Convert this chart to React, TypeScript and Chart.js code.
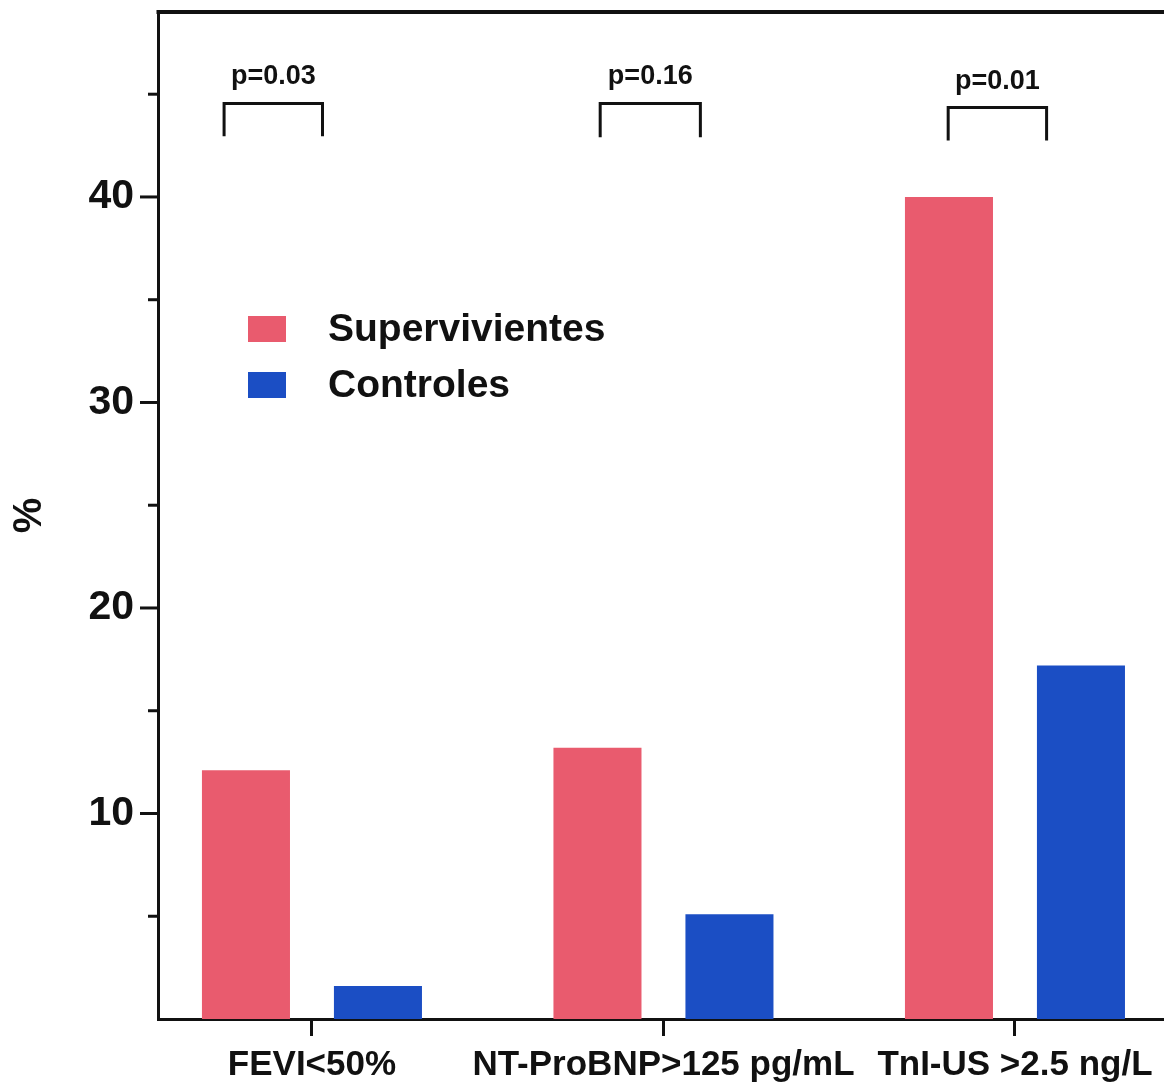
import React, { useEffect, useRef } from 'react';
import { Chart, registerables } from 'chart.js';

Chart.register(...registerables);

// ---- data ----
const categories = ['FEVI<50%', 'NT-ProBNP>125 pg/mL', 'TnI-US >2.5 ng/L'];
const seriesNames = ['Supervivientes', 'Controles'];
const supervivientes = [12.1, 13.2, 40.0];
const controles = [1.6, 5.1, 17.2];
const yMajorTicks = [10, 20, 30, 40];
const yMinorTicks = [5, 15, 25, 35, 45];
const yTitle = '%';
const pValues = ['p=0.03', 'p=0.16', 'p=0.01'];
// bracket extents: x offsets from each category centre (category units), y in %
const bracketStart = [-0.25, -0.18, -0.19];
const bracketEnd = [0.03, 0.105, 0.09];
const bracketTop = [44.55, 44.55, 44.35];
const bracketBottom = [42.95, 42.9, 42.75];
const xRange = [-0.438, 2.424];
const yRange = [0, 49];

const RED = '#E95B6E';
const BLUE = '#1B4EC4';
const INK = '#111111';
const FONT = "'Liberation Sans', Arial, Helvetica, sans-serif";

const decorations = {
  id: 'decorations',
  afterDraw(chart: any) {
    const { ctx, chartArea, scales } = chart;
    const xs = scales.x;
    const ys = scales.y;
    ctx.save();
    ctx.strokeStyle = INK;
    ctx.fillStyle = INK;
    ctx.lineCap = 'butt';

    // top frame line
    ctx.lineWidth = 4;
    ctx.beginPath();
    ctx.moveTo(chartArea.left - 1.5, chartArea.top);
    ctx.lineTo(chartArea.right, chartArea.top);
    ctx.stroke();

    // y tick marks
    ctx.lineWidth = 3;
    const tick = (v: number, len: number) => {
      const py = ys.getPixelForValue(v);
      ctx.beginPath();
      ctx.moveTo(chartArea.left - len, py);
      ctx.lineTo(chartArea.left, py);
      ctx.stroke();
    };
    yMajorTicks.forEach((v) => tick(v, 18));
    yMinorTicks.forEach((v) => tick(v, 10));

    // significance brackets
    ctx.lineWidth = 3;
    ctx.lineJoin = 'miter';
    ctx.font = `bold 27px ${FONT}`;
    ctx.textAlign = 'center';
    ctx.textBaseline = 'alphabetic';
    pValues.forEach((label, i) => {
      const x1 = xs.getPixelForValue(i + bracketStart[i]);
      const x2 = xs.getPixelForValue(i + bracketEnd[i]);
      const yt = ys.getPixelForValue(bracketTop[i]);
      const yb = ys.getPixelForValue(bracketBottom[i]);
      ctx.beginPath();
      ctx.moveTo(x1, yb);
      ctx.lineTo(x1, yt);
      ctx.lineTo(x2, yt);
      ctx.lineTo(x2, yb);
      ctx.stroke();
      ctx.fillText(label, (x1 + x2) / 2, yt - 19);
    });

    // legend
    ctx.font = `bold 39px ${FONT}`;
    ctx.textAlign = 'left';
    ctx.textBaseline = 'middle';
    chart.data.datasets.forEach((ds: any, i: number) => {
      const bx = chartArea.left + 90;
      const by = chartArea.top + 304 + i * 56;
      ctx.fillStyle = ds.backgroundColor;
      ctx.fillRect(bx, by, 38, 26);
      ctx.fillStyle = INK;
      ctx.fillText(ds.label, bx + 80, by + 14);
    });
    ctx.restore();
  },
};

export default function App() {
  const ref = useRef<HTMLCanvasElement | null>(null);

  useEffect(() => {
    if (!ref.current) return;
    Chart.defaults.font.family = FONT;
    const chart = new Chart(ref.current, {
      type: 'bar',
      data: {
        datasets: [
          {
            label: seriesNames[0],
            data: categories.map((_, i) => ({ x: i, y: supervivientes[i] })),
            backgroundColor: RED,
            borderWidth: 0,
            categoryPercentage: 0.751,
            barPercentage: 0.667,
          },
          {
            label: seriesNames[1],
            data: categories.map((_, i) => ({ x: i, y: controles[i] })),
            backgroundColor: BLUE,
            borderWidth: 0,
            categoryPercentage: 0.751,
            barPercentage: 0.667,
          },
        ],
      } as any,
      options: {
        animation: false,
        responsive: false,
        devicePixelRatio: 1,
        events: [],
        layout: { padding: { top: 12, left: 0, right: 0, bottom: 0 } },
        plugins: {
          legend: { display: false },
          tooltip: { enabled: false },
        },
        scales: {
          x: {
            type: 'linear',
            min: xRange[0],
            max: xRange[1],
            offset: false,
            afterBuildTicks: (s: any) => {
              s.ticks = categories.map((_, i) => ({ value: i }));
            },
            afterFit: (s: any) => {
              s.height = 72;
              s.paddingLeft = 0;
              s.paddingRight = 0;
            },
            grid: {
              display: true,
              drawOnChartArea: false,
              drawTicks: true,
              tickLength: 17,
              tickWidth: 3,
              tickColor: INK,
              offset: false,
            },
            border: { display: true, color: INK, width: 3 },
            ticks: {
              callback: (_v: any, i: number) => categories[i],
              autoSkip: false,
              maxRotation: 0,
              minRotation: 0,
              font: { size: 35, weight: 'bold' },
              color: INK,
              padding: 8,
            },
          },
          y: {
            type: 'linear',
            min: yRange[0],
            max: yRange[1],
            afterBuildTicks: (s: any) => {
              s.ticks = yMajorTicks.map((v) => ({ value: v }));
            },
            afterFit: (s: any) => {
              s.width = 158;
              s.paddingTop = 0;
              s.paddingBottom = 0;
            },
            grid: { display: false, drawTicks: false },
            border: { display: true, color: INK, width: 3 },
            ticks: {
              font: { size: 41, weight: 'bold' },
              color: INK,
              padding: 24,
            },
            title: {
              display: true,
              text: yTitle,
              font: { size: 40, weight: 'bold' },
              color: INK,
              padding: { top: 6, bottom: 0 },
            },
          },
        },
      } as any,
      plugins: [decorations],
    });
    return () => chart.destroy();
  }, []);

  return (
    <div
      style={{
        position: 'absolute',
        left: 0,
        top: 0,
        width: 1164,
        height: 1091,
        overflow: 'hidden',
        background: '#ffffff',
      }}
    >
      <canvas ref={ref} width={1164} height={1091} style={{ display: 'block' }} />
    </div>
  );
}
